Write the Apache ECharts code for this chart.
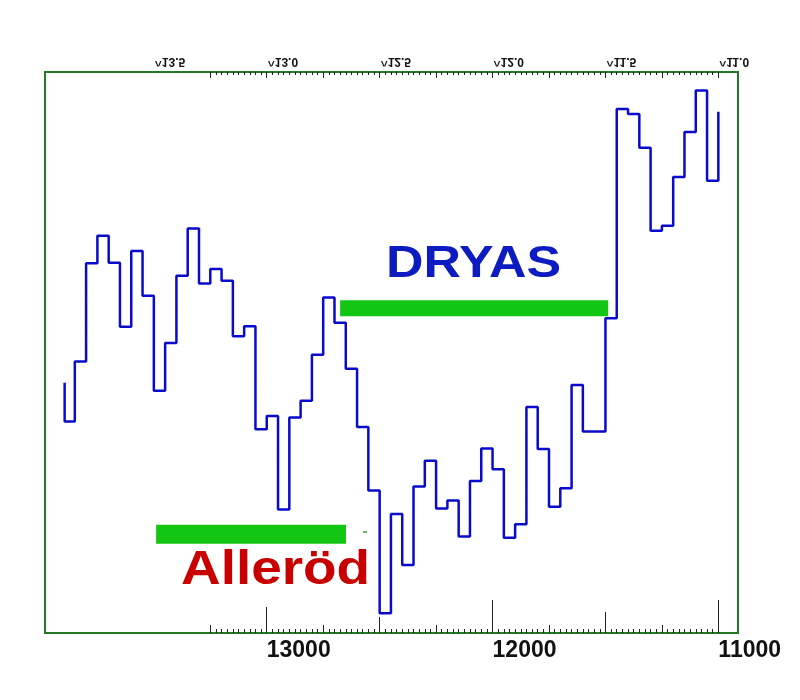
<!DOCTYPE html>
<html><head><meta charset="utf-8">
<script src="https://cdn.jsdelivr.net/npm/echarts@6/dist/echarts.min.js"></script>
<style>html,body{margin:0;padding:0;background:#fff}#c{width:800px;height:700px}</style>
</head><body><div id="c"></div>
<script>
// ---- data (years BP, proxy value) ----
const ages = [13895,13850,13800,13750,13700,13650,13600,13550,13500,13450,13400,13350,13300,13250,13200,13150,13100,13050,13000,
  12950,12900,12850,12800,12750,12700,12650,12600,12550,12500,12450,12400,12350,12300,12250,12200,12150,12100,12050,12000,
  11950,11900,11850,11800,11750,11700,11650,11600,11500,11450,11400,11350,11300,11250,11200,11150,11100,11050,11000,11000];
const values = [44.6,37.7,48.4,65.9,70.8,66.0,54.6,68.1,60.1,43.2,51.7,63.7,72.1,62.3,64.9,62.8,52.9,54.7,36.3,
  38.7,22.0,38.4,41.4,49.6,59.8,55.3,47.1,36.7,25.4,3.5,21.2,12.1,26.1,30.7,22.2,23.6,17.2,27.1,32.9,
  29.2,17.0,19.4,40.3,32.8,22.5,25.8,44.2,35.9,56.1,93.4,92.5,86.5,71.7,72.6,81.3,89.3,96.7,80.6,92.9];
const bottomLabels = [13000, 12000, 11000];
const topLabelValues = [13500, 13000, 12500, 12000, 11500, 11000];
const topLabelTexts = ['13.5', '13.0', '12.5', '12.0', '11.5', '11.0'];
const dryasSpan = [12675, 11488];
const dryasLevel = 57.9;
const allerodSpan = [13490, 12649];
const allerodLevel = 17.6;
const allerodDash = [12573, 12556];
const allerodDashLevel = 18.0;
const minorTicks = []; for (let v = 11000; v <= 13250; v += 25) minorTicks.push(v);
const mediumTicks = [11000, 11250, 11500, 11750, 12000, 12250, 12500, 12750, 13000, 13250];

// ---- chart ----
const X_MIN = 10913, X_MAX = 13982;
function xa(pos, ticks, len, extra) {
  return Object.assign({
    type: 'value', position: pos, min: X_MIN, max: X_MAX, inverse: true,
    axisLine: { show: false }, splitLine: { show: false },
    axisTick: { show: true, inside: true, length: len, customValues: ticks, lineStyle: { color: '#222', width: 1 } },
    axisLabel: { show: false }
  }, extra || {});
}
const chart = echarts.init(document.getElementById('c'), null, { renderer: 'canvas' });
const option = {
  animation: false,
  backgroundColor: '#ffffff',
  grid: { left: 45, right: 62, top: 72, bottom: 67, show: true, borderColor: '#247a24', borderWidth: 2, outerBoundsMode: 'none' },
  xAxis: [
    xa('bottom', minorTicks, 4, {
      axisLabel: { show: true, customValues: bottomLabels, formatter: v => String(v), align: 'left', margin: 6,
        fontFamily: 'Liberation Sans', fontWeight: 'bold', fontSize: 23, color: '#111' }
    }),
    xa('bottom', mediumTicks, 8),
    xa('bottom', [12000, 11000], 33),
    xa('bottom', [13000], 26),
    xa('bottom', [11500], 21),
    xa('bottom', [12500], 16),
    xa('top', minorTicks, 3),
    xa('top', mediumTicks, 6)
  ],
  yAxis: { type: 'value', min: 0, max: 100, show: false },
  series: [
    { type: 'line', name: 'record', step: 'start', xAxisIndex: 0, symbol: 'none', silent: true, z: 4,
      data: ages.map((a, i) => [a, values[i]]),
      lineStyle: { color: '#0a0acc', width: 2.5 } },
    { type: 'line', name: 'Dryas', xAxisIndex: 0, symbol: 'none', silent: true, z: 3,
      data: dryasSpan.map(a => [a, dryasLevel]), lineStyle: { color: '#14c614', width: 16, cap: 'butt' } },
    { type: 'line', name: 'Alleröd', xAxisIndex: 0, symbol: 'none', silent: true, z: 3,
      data: allerodSpan.map(a => [a, allerodLevel]), lineStyle: { color: '#14c614', width: 19, cap: 'butt' } },
    { type: 'line', name: 'dash', xAxisIndex: 0, symbol: 'none', silent: true, z: 3,
      data: allerodDash.map(a => [a, allerodDashLevel]), lineStyle: { color: '#3a9a3a', width: 1.5 } }
  ]
};
chart.setOption(option);

const graphics = [
  { type: 'text', x: 386, y: 265, scaleX: 1.18, z: 10,
    style: { text: 'DRYAS', fill: '#0c1cc0', fontFamily: 'Liberation Sans', fontWeight: 'bold', fontSize: 44, align: 'left', verticalAlign: 'middle' } },
  { type: 'text', x: 181, y: 570, scaleX: 1.12, z: 10,
    style: { text: 'Alleröd', fill: '#c80000', fontFamily: 'Liberation Sans', fontWeight: 'bold', fontSize: 49, align: 'left', verticalAlign: 'middle' } }
];
topLabelValues.forEach((v, i) => {
  const px = chart.convertToPixel({ xAxisIndex: 0 }, v);
  graphics.push({ type: 'text', x: px + 1, y: 61, scaleY: -1, z: 10,
    style: { text: '^' + topLabelTexts[i], fill: '#111', fontFamily: 'Liberation Sans', fontWeight: 'bold', fontSize: 12, align: 'left', verticalAlign: 'middle' } });
});
chart.setOption({ graphic: graphics });
</script>
</body></html>
